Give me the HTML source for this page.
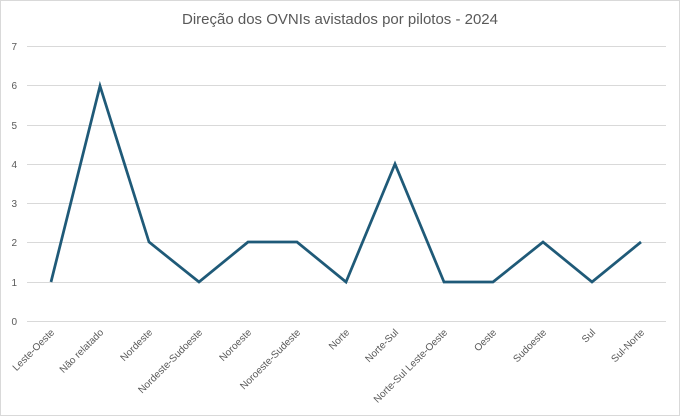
<!DOCTYPE html>
<html><head><meta charset="utf-8"><style>
html,body{margin:0;padding:0;background:#fff;}
svg{display:block;font-family:"Liberation Sans",Arial,sans-serif;}
</style></head><body>
<svg width="680" height="416" viewBox="0 0 680 416" xmlns="http://www.w3.org/2000/svg">
<rect x="0.5" y="0.5" width="679" height="415" fill="#fff" stroke="#d9d9d9"/>
<text x="340" y="24" text-anchor="middle" font-size="15" fill="#595959">Direção dos OVNIs avistados por pilotos - 2024</text>
<g stroke="#d9d9d9" stroke-width="1">
<line x1="27" x2="666" y1="46.5" y2="46.5"/>
<line x1="27" x2="666" y1="85.5" y2="85.5"/>
<line x1="27" x2="666" y1="125.5" y2="125.5"/>
<line x1="27" x2="666" y1="164.5" y2="164.5"/>
<line x1="27" x2="666" y1="203.5" y2="203.5"/>
<line x1="27" x2="666" y1="242.5" y2="242.5"/>
<line x1="27" x2="666" y1="282.5" y2="282.5"/>
<line x1="27" x2="666" y1="321.5" y2="321.5"/>
</g>
<g font-size="10" fill="#595959" text-anchor="end">
<text x="17" y="50">7</text><text x="17" y="89">6</text><text x="17" y="129">5</text><text x="17" y="168">4</text>
<text x="17" y="207">3</text><text x="17" y="246">2</text><text x="17" y="286">1</text><text x="17" y="325">0</text>
</g>
<polyline fill="none" stroke="#1f5a78" stroke-width="2.75" stroke-linejoin="miter"
points="51,282 100,86 149,242 199,282 248,242 297,242 346,282 395,164 444,282 493,282 543,242 592,282 641,242"/>
<g font-size="10" fill="#595959" text-anchor="end">
<text transform="translate(55,333) rotate(-45)">Leste-Oeste</text>
<text transform="translate(104,333) rotate(-45)">Não relatado</text>
<text transform="translate(153,333) rotate(-45)">Nordeste</text>
<text transform="translate(203,333) rotate(-45)">Nordeste-Sudoeste</text>
<text transform="translate(252,333) rotate(-45)">Noroeste</text>
<text transform="translate(301,333) rotate(-45)">Noroeste-Sudeste</text>
<text transform="translate(350,333) rotate(-45)">Norte</text>
<text transform="translate(399,333) rotate(-45)">Norte-Sul</text>
<text transform="translate(448,333) rotate(-45)">Norte-Sul Leste-Oeste</text>
<text transform="translate(497,333) rotate(-45)">Oeste</text>
<text transform="translate(547,333) rotate(-45)">Sudoeste</text>
<text transform="translate(596,333) rotate(-45)">Sul</text>
<text transform="translate(645,333) rotate(-45)">Sul-Norte</text>
</g>
</svg>
</body></html>
